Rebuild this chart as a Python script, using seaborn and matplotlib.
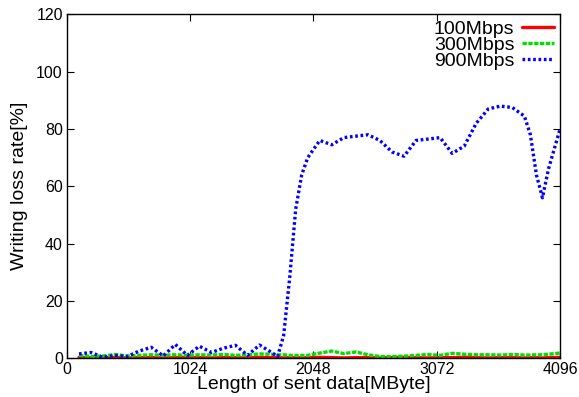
import matplotlib
matplotlib.use("Agg")
import matplotlib.pyplot as plt
import seaborn as sns
import pandas as pd

# sent data length [MByte]
sent_mb = [100, 200, 300, 400, 500, 600, 700, 800, 900, 1000, 1100, 1200, 1300, 1400, 1500, 1600, 1700,
           1750, 1800, 1850, 1900, 1950,
           2000, 2100, 2200, 2300, 2400, 2500, 2600, 2700, 2800, 2900, 3000, 3100, 3200, 3300, 3400,
           3500, 3600, 3700, 3800,
           3850, 3900, 3950, 4000, 4096]

loss_100 = [0.3, 0.1, 0.2, 0.3, 0.1, 0.2, 0.2, 0.1, 0.2, 0.3, 0.2, 0.1, 0.2, 0.2, 0.1, 0.3, 0.2,
            0.2, 0.1, 0.2, 0.2, 0.1,
            0.2, 0.3, 0.2, 0.1, 0.2, 0.2, 0.1, 0.2, 0.3, 0.2, 0.1, 0.2, 0.2, 0.3, 0.2,
            0.1, 0.2, 0.2, 0.1,
            0.2, 0.2, 0.1, 0.2, 0.3]

loss_300 = [1.0, 0.6, 0.8, 1.3, 0.8, 1.0, 1.2, 1.0, 1.2, 1.0, 1.2, 1.1, 1.3, 1.0, 1.2, 1.5, 1.4,
            1.2, 1.2, 1.0, 1.0, 1.0,
            1.0, 1.8, 2.5, 1.6, 2.2, 1.2, 0.6, 0.6, 0.7, 1.0, 1.3, 1.0, 1.7, 1.4, 1.2,
            1.2, 1.1, 1.3, 1.1,
            1.1, 1.2, 1.2, 1.4, 1.8]

loss_900 = [1.5, 2.0, 0.3, 1.0, 0.6, 2.5, 3.8, 0.8, 4.8, 1.0, 4.2, 2.0, 3.5, 4.5, 1.0, 4.6, 2.0,
            0.6, 8, 28, 52, 64,
            70, 76, 74.5, 77, 77.5, 78, 76, 72, 70.5, 76, 76.5, 77, 71.5, 74, 82,
            87, 88, 87.5, 84.5,
            78, 64, 56, 66, 80]

labels = ["100Mbps", "300Mbps", "900Mbps"]
colors = ["#ff0000", "#00e000", "#0000ff"]
dash_styles = ["-", (0, (1.3, 0.45)), (0, (0.8, 0.8))]

sns.set_style("ticks")
plt.rcParams["font.family"] = ["Liberation Sans", "DejaVu Sans"]
plt.rcParams["text.color"] = "black"
plt.rcParams["axes.labelcolor"] = "black"
plt.rcParams["xtick.color"] = "black"
plt.rcParams["ytick.color"] = "black"
plt.rcParams["axes.edgecolor"] = "black"

df = pd.DataFrame({"x": sent_mb, labels[0]: loss_100, labels[1]: loss_300, labels[2]: loss_900})

fig = plt.figure(figsize=(5.79, 3.97), dpi=100)
ax = fig.add_axes([0.1157, 0.0977, 0.8515, 0.866])

for lab, col, ls in zip(labels, colors, dash_styles):
    sns.lineplot(data=df, x="x", y=lab, ax=ax, color=col, linestyle=ls,
                 linewidth=2.4, label=lab)

ax.set_xlim(0, 4096)
ax.set_ylim(0, 120)
ax.set_xticks([0, 1024, 2048, 3072, 4096])
ax.set_yticks(range(0, 121, 20))
ax.tick_params(direction="in", top=True, right=True, length=5, width=0.8,
               labelsize=11.5, pad=3)
for s in ax.spines.values():
    s.set_linewidth(1.0)
    s.set_visible(True)

ax.set_xlabel("Length of sent data[MByte]", fontsize=14, labelpad=-1)
ax.set_ylabel("Writing loss rate[%]", fontsize=14, labelpad=6)

ax.legend(loc="upper right", frameon=False, markerfirst=False, fontsize=14,
          handlelength=1.65, handletextpad=0.4, labelspacing=-0.08,
          borderaxespad=0.2, borderpad=0.1)

fig.savefig("out.png", dpi=100)
